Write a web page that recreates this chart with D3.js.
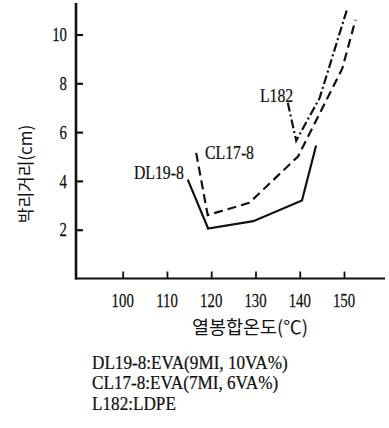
<!DOCTYPE html>
<html>
<head>
<meta charset="utf-8">
<script src="https://cdn.jsdelivr.net/npm/d3@7"></script>
<style>
  html, body { margin: 0; padding: 0; background: #fff; }
  svg { display: block; }
  .num { font-family: "Liberation Serif", "Times New Roman", serif; fill: #111; stroke: #111; stroke-width: 0.25; }
  .kr { font-family: "Noto Sans CJK KR", sans-serif; fill: #111; }
</style>
</head>
<body>
<svg id="chart" width="389" height="428"></svg>
<script>
// Peel distance (cm) vs heat-seal temperature (°C) for three films
const xTicks = [100, 110, 120, 130, 140, 150];
const yTicks = [2, 4, 6, 8, 10];

const dl19Temp = [114.7, 119.3, 129.5, 140.5, 143.7];
const dl19Dist = [4.05, 2.05, 2.35, 3.2, 5.45];

const cl17Temp = [116.6, 119.2, 128.6, 139.6, 149.6, 152.6];
const cl17Dist = [5.15, 2.6, 3.1, 5.0, 8.6, 10.6];

const l182Temp = [137.3, 139.2, 144.5, 150.8];
const l182Dist = [7.2, 5.65, 7.4, 11.1];

const seriesNames = ["DL19-8", "CL17-8", "L182"];
const legendLines = ["DL19-8:EVA(9MI, 10VA%)", "CL17-8:EVA(7MI, 6VA%)", "L182:LDPE"];

const svg = d3.select("#chart");

const x = d3.scaleLinear().domain([100, 150]).range([122.7, 344]);
const y = d3.scaleLinear().domain([0, 10]).range([278.5, 34.5]);

const axisLeft = 76, axisRight = 385, axisTop = 3, axisBottom = 278.5;

// axes
const gy = svg.append("g").attr("transform", `translate(${axisLeft},0)`)
  .call(d3.axisRight(y).tickValues(yTicks).tickSize(7).tickFormat(""));
gy.select(".domain").remove();
gy.selectAll(".tick line").attr("stroke", "#111").attr("stroke-width", 2.2);

const gx = svg.append("g").attr("transform", `translate(0,${axisBottom})`)
  .call(d3.axisTop(x).tickValues(xTicks).tickSize(7).tickFormat(""));
gx.select(".domain").remove();
gx.selectAll(".tick line").attr("stroke", "#111").attr("stroke-width", 1.8);

svg.append("line").attr("x1", axisLeft).attr("x2", axisLeft)
  .attr("y1", axisTop).attr("y2", axisBottom + 1)
  .attr("stroke", "#111").attr("stroke-width", 2.6);
svg.append("line").attr("x1", axisLeft - 1).attr("x2", axisRight)
  .attr("y1", axisBottom).attr("y2", axisBottom)
  .attr("stroke", "#111").attr("stroke-width", 2.2);

// tick labels (condensed serif digits)
const sx = 0.78;
yTicks.forEach(v => {
  svg.append("text").attr("class", "num")
    .attr("transform", `translate(67,${y(v)}) scale(${sx},1)`)
    .attr("text-anchor", "end").attr("dy", "0.35em")
    .attr("font-size", 19).text(v);
});
xTicks.forEach(v => {
  svg.append("text").attr("class", "num")
    .attr("transform", `translate(${x(v)},${axisBottom + 22}) scale(${sx},1)`)
    .attr("text-anchor", "middle").attr("dy", "0.35em")
    .attr("font-size", 19).text(v);
});

// axis titles
svg.append("text").attr("class", "kr")
  .attr("transform", "translate(26,174) rotate(-90)")
  .attr("text-anchor", "middle").attr("dy", "0.35em")
  .attr("font-size", 17).text("박리거리(cm)");
svg.append("text").attr("class", "kr")
  .attr("x", 250).attr("y", 328)
  .attr("text-anchor", "middle").attr("dy", "0.35em")
  .attr("font-size", 18.5).text("열봉합온도(℃)");

// data lines
const line = d3.line().x(d => x(d[0])).y(d => y(d[1]));
const series = [
  { pts: d3.zip(dl19Temp, dl19Dist), dash: null },
  { pts: d3.zip(cl17Temp, cl17Dist), dash: "9,5" },
  { pts: d3.zip(l182Temp, l182Dist), dash: "9,3,2,3" }
];
series.forEach(s => {
  svg.append("path").attr("d", line(s.pts))
    .attr("fill", "none").attr("stroke", "#111").attr("stroke-width", 2.2)
    .attr("stroke-linejoin", "miter")
    .attr("stroke-dasharray", s.dash);
});

// series labels
const labelPos = [[134, 172], [205, 152], [260, 95]];
seriesNames.forEach((n, i) => {
  svg.append("text").attr("class", "num")
    .attr("transform", `translate(${labelPos[i][0]},${labelPos[i][1]}) scale(0.83,1)`)
    .attr("dy", "0.35em").attr("font-size", 19).text(n);
});

// material notes
legendLines.forEach((t, i) => {
  svg.append("text").attr("class", "num")
    .attr("transform", `translate(92,${362 + i * 20.5}) scale(0.88,1)`)
    .attr("dy", "0.35em").attr("font-size", 19.5).text(t);
});
</script>
</body>
</html>
